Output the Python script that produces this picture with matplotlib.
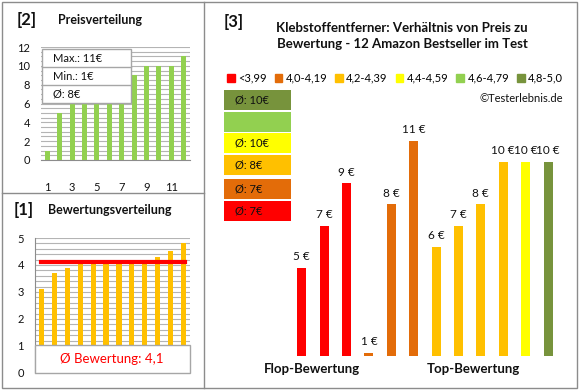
import matplotlib
matplotlib.use("Agg")
import matplotlib.pyplot as plt
from matplotlib.patches import Rectangle, Patch
from matplotlib.lines import Line2D
import numpy as np

plt.rcParams['font.family'] = ['Lato', 'DejaVu Sans']

# data
prices_sorted = [1, 5, 6, 7, 7, 8, 8, 9, 10, 10, 10, 11]
ratings_sorted = [3.1, 3.7, 3.9, 4.1, 4.1, 4.1, 4.2, 4.2, 4.2, 4.3, 4.5, 4.8]
bar_prices = [5, 7, 9, 1, 8, 11, 6, 7, 8, 10, 10, 10]
bar_ratings = [3.9, 3.7, 3.1, 4.1, 4.1, 4.1, 4.2, 4.2, 4.2, 4.3, 4.5, 4.8]
class_labels = ["<3,99", "4,0-4,19", "4,2-4,39", "4,4-4,59", "4,6-4,79", "4,8-5,0"]
class_edges = [4.0, 4.2, 4.4, 4.6, 4.8]
class_colors = ["#FF0000", "#E36C09", "#FFC000", "#FFFF00", "#92D050", "#77933C"]
avg_labels = ["Ø: 7€", "Ø: 7€", "Ø: 8€", "Ø: 10€", "", "Ø: 10€"]  # per class, red..olive
title = "Klebstoffentferner: Verhältnis von Preis zu\nBewertung - 12 Amazon Bestseller im Test"

W, H = 580, 390
fig = plt.figure(figsize=(W / 100, H / 100), dpi=100)


def box(x0, y0, x1, y1):
    """pixel box (top-left origin) -> figure fraction rect"""
    return [x0 / W, 1 - y1 / H, (x1 - x0) / W, (y1 - y0) / H]


def fx(x):
    return x / W


def fy(y):
    return 1 - y / H


grid_c = "#B4B4B4"
border_c = "#8C8C8C"
txt_c = "#111111"
n = len(prices_sorted)
x = np.arange(1, n + 1)

# panel borders
fig.patches.append(Rectangle((fx(2), fy(388)), fx(575), 386 / H, transform=fig.transFigure,
                             fill=False, ec=border_c, lw=1))

# ---- [1] Bewertungsverteilung
fig.text(fx(14), fy(210), "[1]", fontsize=12, fontweight="bold", va="center", color=txt_c)
fig.text(fx(48), fy(210), "Bewertungsverteilung", fontsize=9, fontweight="bold", va="center", color=txt_c)
ax2 = fig.add_axes(box(35, 238, 190, 373))
ax2.bar(x, ratings_sorted, width=0.4, color="#FFC000", zorder=3)
ax2.set_xlim(0.5, n + 0.5)
ax2.set_ylim(-0.001, 5)
ax2.set_yticks(np.arange(0, 5.01, 0.2), minor=True)
ax2.set_yticks(range(0, 6), labels=[str(v) for v in range(0, 6)])
ax2.set_xticks([])
ax2.grid(axis="y", which="both", color=grid_c, lw=0.8, zorder=0)
ax2.tick_params(axis="both", which="both", length=0, labelsize=8, colors=txt_c)
ax2.tick_params(axis="y", pad=8)
for s in ["top", "right", "bottom"]:
    ax2.spines[s].set_visible(False)
ax2.spines["left"].set_color("#8C8C8C")
avg_r = np.mean(ratings_sorted)
ax2.axhline(avg_r, xmin=0.04, xmax=0.97, color="#FF0000", lw=3, zorder=4)
fig.patches.append(Rectangle((fx(35), fy(373)), 155 / W, 28 / H, transform=fig.transFigure,
                             fc="white", ec="#A6A6A6", lw=1, zorder=5))
fig.text(fx(112), fy(359), f"Ø Bewertung: {avg_r:.1f}".replace(".", ","), fontsize=9.5,
         color="#FF0000", ha="center", va="center", zorder=6)

fig.add_artist(Line2D([fx(204), fx(204)], [fy(2), fy(388)], color=border_c, lw=1))
fig.add_artist(Line2D([fx(2), fx(204)], [fy(193), fy(193)], color=border_c, lw=1))

# ---- [2] Preisverteilung
fig.text(fx(17), fy(20), "[2]", fontsize=12, fontweight="bold", va="center", color=txt_c)
fig.text(fx(58), fy(20), "Preisverteilung", fontsize=9, fontweight="bold", va="center", color=txt_c)
ax1 = fig.add_axes(box(41, 47, 190, 160))
ax1.bar(x, prices_sorted, width=0.4, color="#92D050", zorder=3)
ax1.set_xlim(0.5, n + 0.5)
ax1.set_ylim(0, 12)
ax1.set_yticks(np.arange(0, 12.01, 0.5), minor=True)
ax1.set_yticks(range(0, 13, 2))
ax1.set_xticks(x[::2])
ax1.grid(axis="y", which="both", color=grid_c, lw=0.8, zorder=0)
ax1.tick_params(axis="both", which="both", length=0, labelsize=8, colors=txt_c)
ax1.tick_params(axis="x", pad=16)
ax1.tick_params(axis="y", pad=8)
for s in ["top", "right", "left"]:
    ax1.spines[s].set_visible(False)
ax1.spines["bottom"].set_color("#8C8C8C")
# stats box
sx0, sy0, sx1, sy1 = 42, 49, 131, 103
fig.patches.append(Rectangle((fx(sx0), fy(sy1)), (sx1 - sx0) / W, (sy1 - sy0) / H,
                             transform=fig.transFigure, fc="white", ec="#A6A6A6", lw=1, zorder=5))
stats = [f"Max.: {max(prices_sorted)}€", f"Min.: {min(prices_sorted)}€",
         f"Ø: {round(np.mean(prices_sorted))}€"]
row_h = (sy1 - sy0) / 3
for i, s in enumerate(stats):
    fig.text(fx(53), fy(sy0 + row_h * (i + 0.5)), s, fontsize=8, va="center", color=txt_c, zorder=6)
    if i:
        fig.add_artist(Line2D([fx(sx0), fx(sx1)], [fy(sy0 + row_h * i)] * 2, color="#A6A6A6", lw=1, zorder=6))

# ---- [3] main chart
fig.text(fx(224), fy(22), "[3]", fontsize=12, fontweight="bold", va="center", color=txt_c)
fig.text(fx(402), fy(36), title, fontsize=9.5, fontweight="bold", ha="center", va="center",
         color=txt_c, linespacing=1.5)
handles = [Patch(color=c) for c in class_colors]
fig.legend(handles, class_labels, loc="center", bbox_to_anchor=(fx(395), fy(78)), ncol=6,
           frameon=False, fontsize=8, handlelength=0.7, handleheight=0.7, handletextpad=0.3,
           columnspacing=0.7, borderpad=0)
fig.text(fx(563), fy(98), "©Testerlebnis.de", fontsize=8, ha="right", va="center", color=txt_c)

ax3 = fig.add_axes(box(224, 120, 570, 356))
cls = np.digitize(bar_ratings, class_edges)
pos = np.arange(len(bar_prices))
ax3.bar(pos, bar_prices, width=0.4, color=[class_colors[c] for c in cls], zorder=3)
for p, v in zip(pos, bar_prices):
    ax3.annotate(f"{v} €", (p, v), xytext=(0, 4), textcoords="offset points", ha="center",
                 va="bottom", fontsize=8.5, color=txt_c)
ax3.set_xlim(-3.47, 11.98)
ax3.set_ylim(0.85, 11.98)
ax3.axis("off")
fig.text(fx(312), fy(369), "Flop-Bewertung", fontsize=9.5, fontweight="bold", ha="center", va="center", color=txt_c)
fig.text(fx(473), fy(369), "Top-Bewertung", fontsize=9.5, fontweight="bold", ha="center", va="center", color=txt_c)

# average price boxes, olive on top
row_tops = [90, 112, 133, 155, 179, 201]
for i, top in enumerate(row_tops):
    k = len(class_colors) - 1 - i
    fig.patches.append(Rectangle((fx(224), fy(top + 20)), 67 / W, 20 / H, transform=fig.transFigure,
                                 fc=class_colors[k], ec="none", zorder=5))
    fig.text(fx(235), fy(top + 10), avg_labels[k], fontsize=8, va="center", color=txt_c, zorder=6)

fig.canvas.draw()
fig.savefig("out.png", dpi=100, facecolor="white")
